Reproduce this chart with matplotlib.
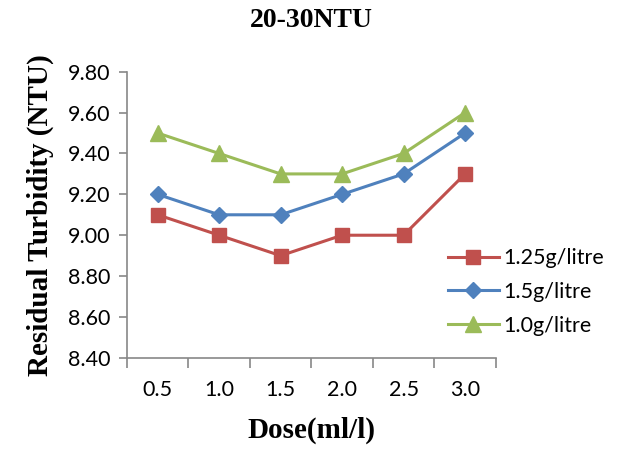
import matplotlib.pyplot as plt

doses = ['0.5', '1.0', '1.5', '2.0', '2.5', '3.0']
dose_125 = [9.1, 9.0, 8.9, 9.0, 9.0, 9.3]
dose_15 = [9.2, 9.1, 9.1, 9.2, 9.3, 9.5]
dose_10 = [9.5, 9.4, 9.3, 9.3, 9.4, 9.6]
y_ticks = [8.4, 8.6, 8.8, 9.0, 9.2, 9.4, 9.6, 9.8]

fig = plt.figure(figsize=(6.19, 4.57), dpi=100)
ax = fig.add_axes([0.205, 0.217, 0.596, 0.626])

x = list(range(len(doses)))
ax.plot(x, dose_125, color='#C0504D', marker='s', markersize=10, linewidth=2.2, label='1.25g/litre')
ax.plot(x, dose_15, color='#4F81BD', marker='D', markersize=8, linewidth=2.2, label='1.5g/litre')
ax.plot(x, dose_10, color='#9BBB59', marker='^', markersize=11, linewidth=2.2, label='1.0g/litre')

ax.set_xlim(-0.5, len(doses) - 0.5)
ax.set_ylim(8.4, 9.8)
ax.set_yticks(y_ticks)
ax.set_yticklabels([f'{v:.2f}' for v in y_ticks], fontfamily='Lato', fontsize=15.5)
ax.set_xticks(x)
ax.set_xticklabels(doses, fontfamily='Lato', fontsize=15.5)
ax.tick_params(axis='x', length=0, pad=16)
ax.tick_params(axis='y', length=6, color='#888888', width=1.2, pad=6)
ax.set_xticks([i - 0.5 for i in range(len(doses) + 1)], minor=True)
ax.tick_params(axis='x', which='minor', length=7, color='#888888', width=1.2)

for side in ['top', 'right']:
    ax.spines[side].set_visible(False)
for side in ['left', 'bottom']:
    ax.spines[side].set_color('#888888')
    ax.spines[side].set_linewidth(1.2)

ax.set_title('20-30NTU', fontfamily='Liberation Serif', fontweight='bold', fontsize=20, pad=32)
ax.set_ylabel('Residual Turbidity (NTU)', fontfamily='Liberation Serif', fontweight='bold', fontsize=21, labelpad=10)
ax.set_xlabel('Dose(ml/l)', fontfamily='Liberation Serif', fontweight='bold', fontsize=21, labelpad=12)

ax.legend(loc='center left', bbox_to_anchor=(0.84, 0.23), frameon=False,
          prop={'family': 'Lato', 'size': 15.5}, handlelength=2.4, labelspacing=0.65,
          handletextpad=0.2, borderpad=0)

fig.savefig('out.png', dpi=100)
